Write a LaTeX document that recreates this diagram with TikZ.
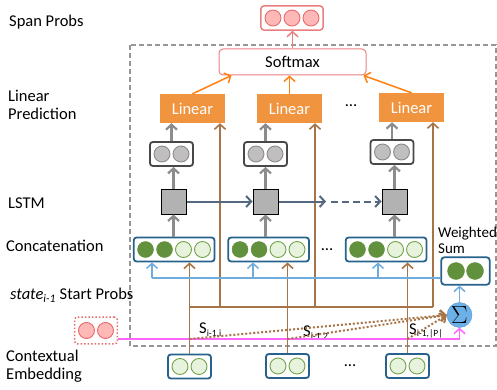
\documentclass[tikz,border=0pt]{standalone}
\usepackage{fontspec}
\setmainfont{Carlito}
\usepackage{tikz}
\usetikzlibrary{positioning, fit, calc, arrows.meta}

\definecolor{linorange}{RGB}{241,148,64}
\definecolor{arrorange}{RGB}{255,128,16}
\definecolor{smred}{RGB}{232,128,128}
\definecolor{pinkfill}{RGB}{255,184,184}
\definecolor{pinkdraw}{RGB}{232,108,108}
\definecolor{greyfill}{RGB}{192,190,190}
\definecolor{greydraw}{RGB}{140,140,140}
\definecolor{boxgrey}{RGB}{72,72,72}
\definecolor{cellgrey}{RGB}{178,178,178}
\definecolor{lstmblue}{RGB}{84,104,130}
\definecolor{catblue}{RGB}{38,98,140}
\definecolor{dkgreen}{RGB}{98,145,62}
\definecolor{ltgreen}{RGB}{232,243,222}
\definecolor{ltgreendraw}{RGB}{115,165,75}
\definecolor{skyblue}{RGB}{110,172,222}
\definecolor{brownline}{RGB}{166,116,70}
\definecolor{sigblue}{RGB}{108,176,232}
\definecolor{magline}{RGB}{255,100,255}
\definecolor{framegrey}{RGB}{150,150,150}

\tikzset{
	dkdot/.style={circle, draw=dkgreen, fill=dkgreen, inner sep=0pt, minimum size=16pt},
	ltdot/.style={circle, draw=ltgreendraw, fill=ltgreen, line width=0.9pt, inner sep=0pt, minimum size=16pt},
	gydot/.style={circle, draw=greydraw, fill=greyfill, line width=0.9pt, inner sep=0pt, minimum size=16pt},
	pkdot/.style={circle, draw=pinkdraw, fill=pinkfill, line width=0.9pt, inner sep=0pt, minimum size=16pt},
	catbox/.style={draw=catblue, rounded corners=3pt, line width=1.8pt, inner sep=3.6pt},
	outbox/.style={draw=boxgrey, rounded corners=3pt, line width=1.8pt, inner sep=3.6pt},
	linbox/.style={fill=linorange, text=white, minimum width=65pt, minimum height=29pt, inner sep=0pt},
	cell/.style={draw=black, fill=cellgrey, line width=1pt, minimum size=25pt, inner sep=0pt},
	% for the row names on the left
	sidetext/.style={anchor=west, align=left, inner sep=0pt},
	subtext/.style={anchor=west, inner sep=0pt},
}

\begin{document}
\begin{tikzpicture}[x=1pt, y=-1pt, node distance=19pt, font=\fontsize{16.5}{18.5}\selectfont, >={Straight Barb[length=5pt, width=11pt]}]
	\useasboundingbox (0,0) rectangle (497,390);
	
	\draw[framegrey, line width=1.2pt, dash pattern=on 5pt off 3pt] (130,45) rectangle (496,346);
	
	\node (tspan) [sidetext] at (9,22) {Span Probs};
	\node (tlin) [sidetext] at (8,105) {Linear\\Prediction};
	\node (tlstm) [sidetext] at (8,203) {LSTM};
	\node (tcat) [sidetext] at (6,246) {Concatenation};
	\node (tstart) [sidetext] at (10,295) {\textit{state}\textsubscript{\textit{i-1}} Start Probs};
	\node (temb) [sidetext] at (6,366) {Contextual\\Embedding};
	
	% span probs
	\node (p1) [pkdot] at (273,18) {};
	\node (p2) [pkdot, right of=p1] {};
	\node (p3) [pkdot, right of=p2] {};
	\node (span) [outbox, draw=smred, line width=1.5pt, fit=(p1)(p3)] {};
	
	\node (sm) [draw=smred, line width=1pt, rounded corners=4pt, minimum width=147pt, minimum height=26pt] at (292.5,62) {Softmax};
	
	\node (lin1) [linbox] at (192.5,108.5) {Linear};
	\node (lin2) [linbox] at (289.5,108.5) {Linear};
	\node (lin3) [linbox] at (411.5,107.5) {Linear};
	\node (dl) at (351,106) {\ldots};
	
	% lstm outputs
	\node (o1a) [gydot] at (162,154) {};
	\node (o1b) [gydot, right of=o1a] {};
	\node (out1) [outbox, fit=(o1a)(o1b)] {};
	\node (o2a) [gydot] at (256,154) {};
	\node (o2b) [gydot, right of=o2a] {};
	\node (out2) [outbox, fit=(o2a)(o2b)] {};
	\node (o3a) [gydot] at (382.5,152) {};
	\node (o3b) [gydot, right of=o3a] {};
	\node (out3) [outbox, fit=(o3a)(o3b)] {};
	
	\node (sq1) [cell] at (173.5,201.5) {};
	\node (sq2) [cell] at (265.5,201.5) {};
	\node (sq3) [cell] at (394.5,201.5) {};
	
	% concatenation
	\node (c1a) [dkdot] at (145.5,249.5) {};
	\node (c1b) [dkdot, right of=c1a] {};
	\node (c1c) [ltdot, right of=c1b] {};
	\node (c1d) [ltdot, right of=c1c] {};
	\node (cat1) [catbox, fit=(c1a)(c1d)] {};
	\node (c2a) [dkdot] at (240,249.5) {};
	\node (c2b) [dkdot, right of=c2a] {};
	\node (c2c) [ltdot, right of=c2b] {};
	\node (c2d) [ltdot, right of=c2c] {};
	\node (cat2) [catbox, fit=(c2a)(c2d)] {};
	\node (c3a) [dkdot] at (357.5,249.5) {};
	\node (c3b) [dkdot, right of=c3a] {};
	\node (c3c) [ltdot, right of=c3b] {};
	\node (c3d) [ltdot, right of=c3c] {};
	\node (cat3) [catbox, fit=(c3a)(c3d)] {};
	\node (dc) at (327,250) {\ldots};
	
	% weighted sum
	\node (w1) [dkdot, minimum size=17pt] at (456,271) {};
	\node (w2) [dkdot, minimum size=17pt, right of=w1] {};
	\node (ws) [catbox, inner xsep=6pt, inner ysep=5pt, fit=(w1)(w2)] {};
	\node (tws) [sidetext, font=\fontsize{15}{16}\selectfont] at (438,240) {Weighted\\Sum};
	\node (sig) [circle, fill=sigblue, draw=sigblue!85!black, line width=0.4pt, minimum size=25pt, inner sep=0pt, font=\fontsize{23}{23}\selectfont] at (459.5,315) {$\Sigma$};
	
	% start probs
	\node (r1) [pkdot] at (86.5,330.5) {};
	\node (r2) [pkdot, right of=r1] {};
	\node (st) [draw=pinkdraw, dotted, line width=1.5pt, rounded corners=3pt, inner xsep=3.5pt, inner ysep=5pt, fit=(r1)(r2)] {};
	
	% contextual embedding
	\node (e1a) [ltdot] at (180,366.5) {};
	\node (e1b) [ltdot, right of=e1a] {};
	\node (emb1) [catbox, fit=(e1a)(e1b)] {};
	\node (e2a) [ltdot] at (278,366) {};
	\node (e2b) [ltdot, right of=e2a] {};
	\node (emb2) [catbox, fit=(e2a)(e2b)] {};
	\node (e3a) [ltdot] at (398,366) {};
	\node (e3b) [ltdot, right of=e3a] {};
	\node (emb3) [catbox, fit=(e3a)(e3b)] {};
	\node (de) at (350,366) {\ldots};
	
	\coordinate (j1) at (220,307);
	\coordinate (j2) at (315,307);
	\coordinate (j3) at (433,307);
	\coordinate (b1) at (152,278);
	\coordinate (b2) at (253,278);
	\coordinate (b3) at (378,278);
	\coordinate (m) at (459.5,339);
	\coordinate (d1) at (emb1.north |- m);
	\coordinate (d2) at (emb2.north |- m);
	\coordinate (d3) at (emb3.north |- m);
	\coordinate (dash1) at (326,201.5);
	\coordinate (dash2) at (331,201.5);
	
	\node (s1) [subtext] at (199,330) {S\textsubscript{\fontsize{9.5}{9.5}\selectfont i-1,i}};
	\node (s2) [subtext] at (303,333) {S\textsubscript{\fontsize{9.5}{9.5}\selectfont i-1,2}};
	\node (s3) [subtext] at (409,331) {S\textsubscript{\fontsize{9.5}{9.5}\selectfont i-1,|P|}};
	
	\begin{scope}[magline, line width=1.5pt, ->]
		\draw (m -| st.east) -- (m) -- (sig.south);
	\end{scope}
	
	\begin{scope}[brownline, line width=1.6pt, ->]
		\draw[-] (emb1.north |- j1) -- (j3);
		\draw (j1) -- (j1 |- lin1.south);
		\draw (j2) -- (j2 |- lin2.south);
		\draw (j3) -- (j3 |- lin3.south);
		\draw (emb1.north) -- (emb1.north |- cat1.south);
		\draw (emb2.north) -- (emb2.north |- cat2.south);
		\draw (emb3.north) -- (emb3.north |- cat3.south);
	\end{scope}
	
	\begin{scope}[brownline, line width=2pt, dash pattern=on 2pt off 2pt, ->]
		\draw (d1) -- (sig.west);
		\draw (d2) -- (sig.west);
		\draw (d3) -- (sig.west);
	\end{scope}
	
	\begin{scope}[skyblue, line width=1.5pt, ->]
		\draw[-] (b1) -- (b1 -| ws.west);
		\draw (b1) -- (b1 |- cat1.south);
		\draw (b2) -- (b2 |- cat2.south);
		\draw (b3) -- (b3 |- cat3.south);
		\draw (sig.north) -- (sig.north |- ws.south);
	\end{scope}
	
	\begin{scope}[greydraw, line width=2.2pt, ->]
		\draw (sq1.south |- cat1.north) -- (sq1.south);
		\draw (sq2.south |- cat2.north) -- (sq2.south);
		\draw (sq3.south |- cat3.north) -- (sq3.south);
		\draw (sq1.north) -- (sq1.north |- out1.south);
		\draw (sq2.north) -- (sq2.north |- out2.south);
		\draw (sq3.north) -- (sq3.north |- out3.south);
		\draw (out1.north) -- (out1.north |- lin1.south);
		\draw (out2.north) -- (out2.north |- lin2.south);
		\draw (out3.north) -- (out3.north |- lin3.south);
	\end{scope}
	
	\begin{scope}[lstmblue, line width=2pt, ->]
		\draw (sq1.east) -- (sq2.west);
		\draw (sq2.east) -- (dash1);
		\draw[dash pattern=on 7pt off 4pt] (dash2) -- (sq3.west);
	\end{scope}
	
	\begin{scope}[arrorange, line width=1.5pt, ->]
		\draw (lin1.north) -- ([xshift=13pt]sm.south west);
		\draw (lin2.north) -- (lin2.north |- sm.south);
		\draw (lin3.north) -- ([xshift=-3pt]sm.south east);
	\end{scope}
	
	\draw[->, smred, line width=1.5pt] (sm.north) -- (sm.north |- span.south);
	
\end{tikzpicture}
\end{document}
